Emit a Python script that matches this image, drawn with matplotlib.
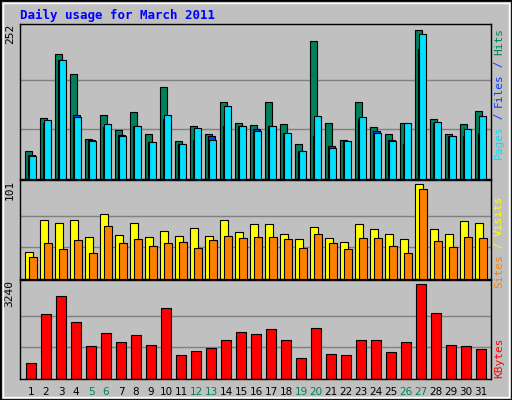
import matplotlib
matplotlib.use("Agg")
import matplotlib.pyplot as plt
from matplotlib.patches import Rectangle

days = list(range(1, 32))
hits = [47,103,211,178,67,108,83,113,76,156,64,90,76,131,95,91,131,93,60,233,95,66,131,88,76,95,252,101,76,93,115]
files = [40,95,201,108,66,88,74,90,62,101,60,66,72,90,90,84,90,78,48,72,55,64,101,81,66,60,219,95,72,72,78]
pages = [39,100,202,105,64,93,72,90,62,108,60,86,66,124,90,81,90,78,47,107,52,64,105,78,64,95,245,96,72,84,107]
visits = [29,63,59,63,45,69,47,59,45,51,46,54,46,63,50,58,58,48,42,55,43,39,58,53,48,42,101,53,48,62,59]
sites = [23,38,32,41,28,56,38,42,35,38,39,33,41,46,43,45,45,42,33,48,38,32,43,44,35,28,96,40,34,45,44]
kbytes = [544,2211,2814,1927,1112,1573,1253,1502,1147,2424,828,970,1041,1324,1608,1537,1715,1324,721,1750,863,828,1324,1324,934,1253,3240,2247,1147,1112,1005]
weekend = [5,6,12,13,19,20,26,27]

W, H = 512, 400
fig = plt.figure(figsize=(W/100, H/100), dpi=100)
fig.patch.set_facecolor("#C0C0C0")
fig.add_artist(Rectangle((0, 0), 1, 1, transform=fig.transFigure, fill=False,
                         edgecolor="black", linewidth=2))
fig.add_artist(Rectangle((3/W, 3/H), 1-6/W, 1-6/H, transform=fig.transFigure, fill=False,
                         edgecolor="white", linewidth=1))
mono = "DejaVu Sans Mono"

def ax_at(y0, y1):
    return fig.add_axes([20/W, 1-y1/H, 471/W, (y1-y0)/H])

xl = (1-5/15, 1-5/15+471/15)
ec = "black"

def style(ax, top, label):
    ax.set_facecolor("#C0C0C0")
    ax.set_xlim(*xl)
    ax.set_ylim(0, top*1.04)
    ax.set_xticks([]); ax.set_yticks([])
    for s in ax.spines.values():
        s.set_color("black"); s.set_linewidth(1)
    for g in (top/3, 2*top/3):
        ax.axhline(g, color="#808080", linewidth=1, zorder=0)
    ax.text(-0.022, 1.0, label, transform=ax.transAxes, rotation=90, ha="center",
            va="top", fontsize=8, family=mono)

a1 = ax_at(24, 179)
style(a1, 252, "252")
a1.bar([d for d in days], hits, width=0.47, align="edge", color="#00805C", edgecolor=ec, linewidth=0.8, zorder=2)
a1.bar([d+0.2 for d in days], files, width=0.47, align="edge", color="#0040FF", edgecolor=ec, linewidth=0.8, zorder=3)
a1.bar([d+0.27 for d in days], pages, width=0.47, align="edge", color="#00E0FF", edgecolor=ec, linewidth=0.8, zorder=4)

a2 = ax_at(180, 279)
style(a2, 101, "101")
a2.bar([d for d in days], visits, width=0.53, align="edge", color="#FFFF00", edgecolor=ec, linewidth=0.8, zorder=2)
a2.bar([d+0.27 for d in days], sites, width=0.53, align="edge", color="#FF8000", edgecolor=ec, linewidth=0.8, zorder=3)

a3 = ax_at(280, 379)
style(a3, 3240, "3240")
a3.bar([d+0.07 for d in days], kbytes, width=0.66, align="edge", color="#FF0000", edgecolor=ec, linewidth=0.8, zorder=2)

for d in days:
    a3.text(d+0.4, -0.08, str(d), transform=a3.get_xaxis_transform(), ha="center", va="top",
            fontsize=7.5, color="#00805C" if d in weekend else "black")

fig.text(20/W, 1-15/H, "Daily usage for March 2011", color="#0000FF", fontsize=9,
         family=mono, fontweight="bold", va="center")

def rlabel(parts, ytop):
    y = 1 - ytop/H
    for txt, col in parts:
        t = fig.text(499/W, y, txt, rotation=90, ha="center", va="top", fontsize=8, color=col, family=mono)
        y -= len(txt)*6.5/H

rlabel([("Hits", "#00805C"), (" / ", "#0040FF"), ("Files", "#0040FF"), (" / ", "#0040FF"), ("Pages", "#00E0FF")], 28)
rlabel([("Visits", "#FFFF00"), (" / ", "#FFFF00"), ("Sites", "#FF8000")], 196)
rlabel([("KBytes", "#FF0000")], 338)

fig.savefig("out.png", dpi=100, facecolor=fig.get_facecolor())
